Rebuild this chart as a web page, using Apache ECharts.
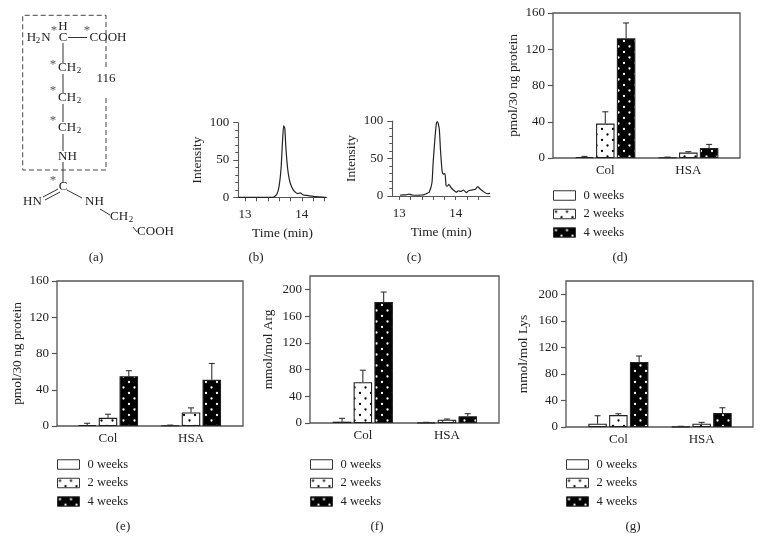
<!DOCTYPE html>
<html><head><meta charset="utf-8">
<style>html,body{margin:0;padding:0;background:#fff}#c{width:762px;height:554px}</style>
<script src="https://cdn.jsdelivr.net/npm/echarts@6/dist/echarts.min.js"></script>
</head><body><div id="c"></div>
<script>
// ---- data ----
const groups = ['Col', 'HSA'];
const weekNames = ['0 weeks', '2 weeks', '4 weeks'];

const dValues = [[1, 0.5], [38, 6], [132, 11]];
const dTops   = [[1.8, 1], [51, 7], [149, 15]];
const eValues = [[1, 0.5], [9, 15], [55, 51]];
const eTops   = [[3, 1], [13, 20], [61, 69]];
const fValues = [[2, 0.5], [61, 5], [181, 10]];
const fTops   = [[7, 1], [79, 6], [196, 14]];
const gValues = [[5, 0.5], [18, 5], [98, 21]];
const gTops   = [[17, 1], [20, 7], [107, 29]];

const curveB = [[12.88,0],[13.3,0],[13.5,0],[13.56,4],[13.6,15],[13.635,39],[13.66,75],[13.68,96],[13.7,93],[13.72,66],[13.75,39],[13.78,24],[13.82,14],[13.87,8],[13.93,5],[13.97,6],[14.03,3],[14.09,2.5],[14.24,1],[14.43,0]];
const curveC = [[13.01,1],[13.06,1.5],[13.12,1.5],[13.17,2.5],[13.23,1.3],[13.31,1],[13.38,1.3],[13.43,1.5],[13.49,3.5],[13.53,5],[13.58,18],[13.6,44],[13.63,75],[13.66,98],[13.68,99],[13.71,89],[13.73,62],[13.76,33],[13.78,29],[13.81,30],[13.83,14],[13.85,13],[13.88,15.5],[13.92,11],[13.96,8],[14.01,5],[14.05,7],[14.09,6],[14.14,8],[14.19,4.5],[14.23,7],[14.29,8],[14.35,9],[14.39,12.5],[14.44,9],[14.5,5.5],[14.56,3],[14.61,3.5]];
const timeTicks = [13, 13.2, 13.4, 13.6, 13.8, 14, 14.2, 14.4];
const timeLabels = [13, 14];
const lowTicks = [0, 40, 80, 120, 160];
const highTicks = [0, 40, 80, 120, 160, 200];

// ---- style ----
const FONT = '"Liberation Serif", serif';
const INK = '#222';
const FRAME = '#555';
const SIZE = 13;
const TITLE = 13.4;
const LEG = 12.5;

function dotPattern(bg, fg) {
  const c = document.createElement('canvas');
  c.width = 11; c.height = 11;
  const x = c.getContext('2d');
  x.fillStyle = bg; x.fillRect(0, 0, 11, 11);
  x.fillStyle = fg;
  [[2.5, 2.5], [8, 8]].forEach(p => { x.beginPath(); x.arc(p[0], p[1], 1.15, 0, 7); x.fill(); });
  return { image: c, repeat: 'repeat' };
}
const fills = ['#fff', dotPattern('#fff', '#000'), dotPattern('#000', '#fff')];

const option = { animation: false, backgroundColor: '#fff', textStyle: { fontFamily: FONT },
  grid: [], xAxis: [], yAxis: [], series: [], legend: [], graphic: { elements: [] } };
const G = option.graphic.elements;

function txt(s, x, y, o) {
  G.push({ type: 'text', silent: true, x: x, y: y, style: { text: s, font: ((o && o.size) || SIZE) + 'px ' + FONT,
    fill: (o && o.fill) || INK, align: (o && o.align) || 'center', verticalAlign: 'middle' } });
}

// ---- bar panels ----
const BAR = 18.5, GAP = 2.3;
function barPanel(p) {
  option.grid.push({ left: p.frame[0], width: p.frame[1] - p.frame[0], top: p.top, height: p.bottom - p.top,
    show: true, borderColor: FRAME, borderWidth: 1.3, backgroundColor: 'transparent' });
  const idx = option.xAxis.length;
  const gi = option.grid.length;
  option.grid.push({ left: p.inner[0], width: p.inner[1] - p.inner[0], top: p.top, height: p.bottom - p.top });
  option.xAxis.push({ type: 'category', gridIndex: gi, data: groups, axisLine: { show: false }, axisTick: { show: false },
    axisLabel: { color: INK, fontSize: SIZE, fontFamily: FONT, margin: 6 } });
  option.yAxis.push({ type: 'value', gridIndex: gi, min: 0, max: p.max, offset: p.inner[0] - p.frame[0],
    name: p.title, nameLocation: 'middle', nameGap: p.nameGap, nameTextStyle: { color: INK, fontSize: TITLE, fontFamily: FONT },
    splitLine: { show: false }, axisLine: { show: false },
    axisTick: { show: true, length: 5, inside: false, customValues: p.ticks, lineStyle: { color: FRAME, width: 1.2 } },
    axisLabel: { color: INK, fontSize: SIZE, fontFamily: FONT, margin: 8, customValues: p.ticks } });
  weekNames.forEach((name, i) => {
    option.series.push({ type: 'bar', name: name, xAxisIndex: idx, yAxisIndex: idx, data: p.values[i], barWidth: BAR, barGap: (GAP / BAR * 100) + '%',
      itemStyle: { color: fills[i], borderColor: '#222', borderWidth: 1.1 } });
  });
  weekNames.forEach((name, i) => {
    const pts = p.tops[i].map((t, k) => [k, t, p.values[i][k]]);
    option.series.push({ type: 'custom', xAxisIndex: idx, yAxisIndex: idx, data: pts, silent: true, z: 1, encode: { x: 0, y: [1, 2] },
      renderItem: (params, api) => {
        const a = api.coord([api.value(0), api.value(1)]);
        const b = api.coord([api.value(0), api.value(2)]);
        const x = a[0] + (i - 1) * (BAR + GAP);
        const st = { stroke: '#333', lineWidth: 1.1 };
        return { type: 'group', children: [
          { type: 'line', shape: { x1: x, y1: a[1], x2: x, y2: b[1] }, style: st },
          { type: 'line', shape: { x1: x - 3, y1: a[1], x2: x + 3, y2: a[1] }, style: st } ] };
      } });
  });
  option.legend.push({ left: p.frame[0], top: p.legendTop, orient: 'vertical', icon: 'rect', itemWidth: 22, itemHeight: 9.5, itemGap: 5.5,
    selectedMode: false, data: weekNames, itemStyle: { borderColor: '#333', borderWidth: 1 }, textStyle: { color: INK, fontSize: LEG, fontFamily: FONT, padding: [0, 0, 0, 3] }, padding: 0 });
}
barPanel({ frame: [553, 740], inner: [563.8, 729.8], top: 13, bottom: 158, max: 160, ticks: lowTicks, title: 'pmol/30 ng protein', nameGap: 33, values: dValues, tops: dTops, legendTop: 189 });
barPanel({ frame: [57, 243], inner: [66.5, 232.5], top: 281, bottom: 426, max: 160, ticks: lowTicks, title: 'pmol/30 ng protein', nameGap: 33, values: eValues, tops: eTops, legendTop: 458 });
barPanel({ frame: [310, 499], inner: [320.8, 489], top: 276, bottom: 423, max: 220, ticks: highTicks, title: 'mmol/mol Arg', nameGap: 35, values: fValues, tops: fTops, legendTop: 458 });
barPanel({ frame: [566, 753], inner: [576.7, 743.3], top: 281, bottom: 427, max: 220, ticks: highTicks, title: 'mmol/mol Lys', nameGap: 36, values: gValues, tops: gTops, legendTop: 458 });

// ---- chromatograms ----
function linePanel(p) {
  const gi = option.grid.length, idx = option.xAxis.length;
  option.grid.push({ left: p.left, width: p.right - p.left, top: p.top, height: p.bottom - p.top });
  option.xAxis.push({ type: 'value', gridIndex: gi, min: p.xmin, max: p.xmax, name: 'Time (min)', nameLocation: 'middle', nameGap: 30,
    nameTextStyle: { color: INK, fontSize: TITLE, fontFamily: FONT },
    splitLine: { show: false }, axisLine: { show: true, lineStyle: { color: FRAME, width: 1.1 } },
    axisTick: { show: true, length: 4, customValues: timeTicks, lineStyle: { color: FRAME } },
    axisLabel: { color: INK, fontSize: SIZE, fontFamily: FONT, margin: 11, customValues: timeLabels } });
  option.yAxis.push({ type: 'value', gridIndex: gi, min: 0, max: 100, interval: 50, name: 'Intensity', nameLocation: 'middle', nameGap: 34,
    nameTextStyle: { color: INK, fontSize: TITLE, fontFamily: FONT },
    splitLine: { show: false }, axisLine: { show: true, lineStyle: { color: FRAME, width: 1.1 } },
    axisTick: { show: true, length: 5, lineStyle: { color: FRAME } },
    minorTick: { show: true, splitNumber: 5, length: 3, lineStyle: { color: FRAME } },
    axisLabel: { color: INK, fontSize: SIZE, fontFamily: FONT, margin: 9 } });
  option.series.push({ type: 'line', xAxisIndex: idx, yAxisIndex: idx, data: p.data, showSymbol: false, smooth: 0.15, lineStyle: { color: '#222', width: 1.2 }, silent: true });
}
linePanel({ left: 238.3, right: 326.7, top: 122.7, bottom: 197.3, xmin: 12.88, xmax: 14.44, data: curveB });
linePanel({ left: 392.3, right: 490, top: 121, bottom: 196, xmin: 12.875, xmax: 14.61, data: curveC });

// ---- panel tags ----
[['(a)', 96, 258], ['(b)', 256, 258], ['(c)', 414, 258], ['(d)', 620, 258], ['(e)', 123, 527], ['(f)', 377, 527], ['(g)', 633, 527]]
  .forEach(t => txt(t[0], t[1], t[2]));

// ---- structure (a) ----
const bonds = [[68,37.5,87,37.5],[63,43,63,63],[63,74,63,93],[63,104,63,122],[63,134,63,151],[63,162,63,183],
  [58,189,43,197],[60,192,45,200],[67,190,82,198],[100,209,110,215],[133,227,137,232]];
bonds.forEach(b => G.push({ type: 'line', silent: true, shape: { x1: b[0], y1: b[1], x2: b[2], y2: b[3] }, style: { stroke: '#333', lineWidth: 1 } }));
G.push({ type: 'polyline', silent: true, shape: { points: [[106,67],[106,15.3],[22.7,15.3],[22.7,170],[106,170],[106,95]] },
  style: { stroke: '#444', fill: 'none', lineWidth: 1, lineDash: [5, 3] } });
const atoms = [['H',63,27],['C',63,38],['COOH',108,38],['N',46,38],['H',31.5,38],['116',106,79],
  ['CH',67,68],['CH',67,98],['CH',67,128],['NH',67.5,157],['C',63,187],['HN',32.5,202],['NH',94.5,202],['CH',119,217],['COOH',155.5,232]];
atoms.forEach(a => txt(a[0], a[1], a[2]));
[[38,41],[79,71],[79,101],[79,131],[131,220]].forEach(s => txt('2', s[0], s[1], { size: 9 }));
[[54,31],[87,31],[53,65],[53,91],[53,121],[53,181]].forEach(s => txt('*', s[0], s[1], { size: 13, fill: '#555' }));

echarts.init(document.getElementById('c'), null, { renderer: 'canvas' }).setOption(option);
</script></body></html>
